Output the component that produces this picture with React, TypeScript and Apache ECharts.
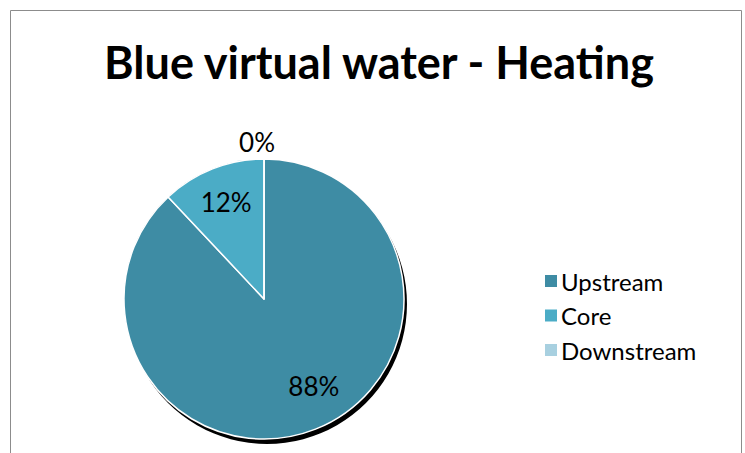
import React, { useEffect, useRef } from "react";
import * as echarts from "echarts";

const titleText = "Blue virtual water - Heating";
const categories = ["Upstream", "Core", "Downstream"];
const values = [88, 12, 0];
const colors = ["#3E8CA4", "#4BACC6", "#A8D0E0"];

export default function App() {
  const ref = useRef<HTMLDivElement>(null);
  useEffect(() => {
    document.body.style.margin = "0";
    const chart = echarts.init(ref.current!, null, { renderer: "svg" });
    const font = "Lato, 'Open Sans', sans-serif";
    const labelOffsets: Record<number, [number, number]> = { 0: [23, 19], 1: [-11, -29] };
    chart.setOption({
      animation: false,
      backgroundColor: "#ffffff",
      title: {
        text: titleText,
        left: 374,
        textAlign: "center",
        top: 34,
        textStyle: { fontFamily: font, fontWeight: "bold", fontSize: 45, color: "#000" },
      },
      graphic: [
        {
          type: "rect",
          shape: { x: 10.5, y: 10.5, width: 731, height: 500 },
          style: { fill: "none", stroke: "#8c8c8c", lineWidth: 1 },
          silent: true,
          z: -10,
        },
      ],
      legend: {
        orient: "vertical",
        left: 538,
        top: 264,
        itemWidth: 14,
        itemHeight: 14,
        itemGap: 10.5,
        icon: "rect",
        data: categories,
        textStyle: { fontFamily: font, fontSize: 24, color: "#000", padding: [0, 0, 0, -2] },
      },
      series: [
        {
          type: "pie",
          center: [264, 299],
          radius: 140,
          silent: true,
          z: 1,
          data: [{ value: 1, name: "shadow" }],
          label: { show: false },
          labelLine: { show: false },
          itemStyle: {
            color: "#000",
            shadowColor: "#000",
            shadowBlur: 1,
            shadowOffsetX: 3,
            shadowOffsetY: 5,
          },
        },
        {
          type: "pie",
          center: [264, 299],
          radius: 140,
          startAngle: 90,
          clockwise: true,
          z: 2,
          avoidLabelOverlap: false,
          data: categories.map((c, i) => ({
            name: c,
            value: values[i],
            itemStyle: { color: colors[i] },
            label: i === 2 ? { position: "outside" } : { position: "inside" },
            labelLine: i === 2 ? { show: false, length: 17, length2: 0 } : { show: false },
          })),
          itemStyle: { borderColor: "#fff", borderWidth: 1.5 },
          label: {
            show: true,
            formatter: "{d}%",
            fontFamily: font,
            fontSize: 26,
            color: "#000",
          },
          labelLayout: (p: any) => {
            if (p.dataIndex === 2) return { align: "center", verticalAlign: "middle", dx: -2 };
            const o = labelOffsets[p.dataIndex];
            return o ? { dx: o[0], dy: o[1] } : {};
          },
        },
      ],
    });
    return () => chart.dispose();
  }, []);
  return <div ref={ref} style={{ position: "fixed", left: 0, top: 0, width: 745, height: 453 }} />;
}
